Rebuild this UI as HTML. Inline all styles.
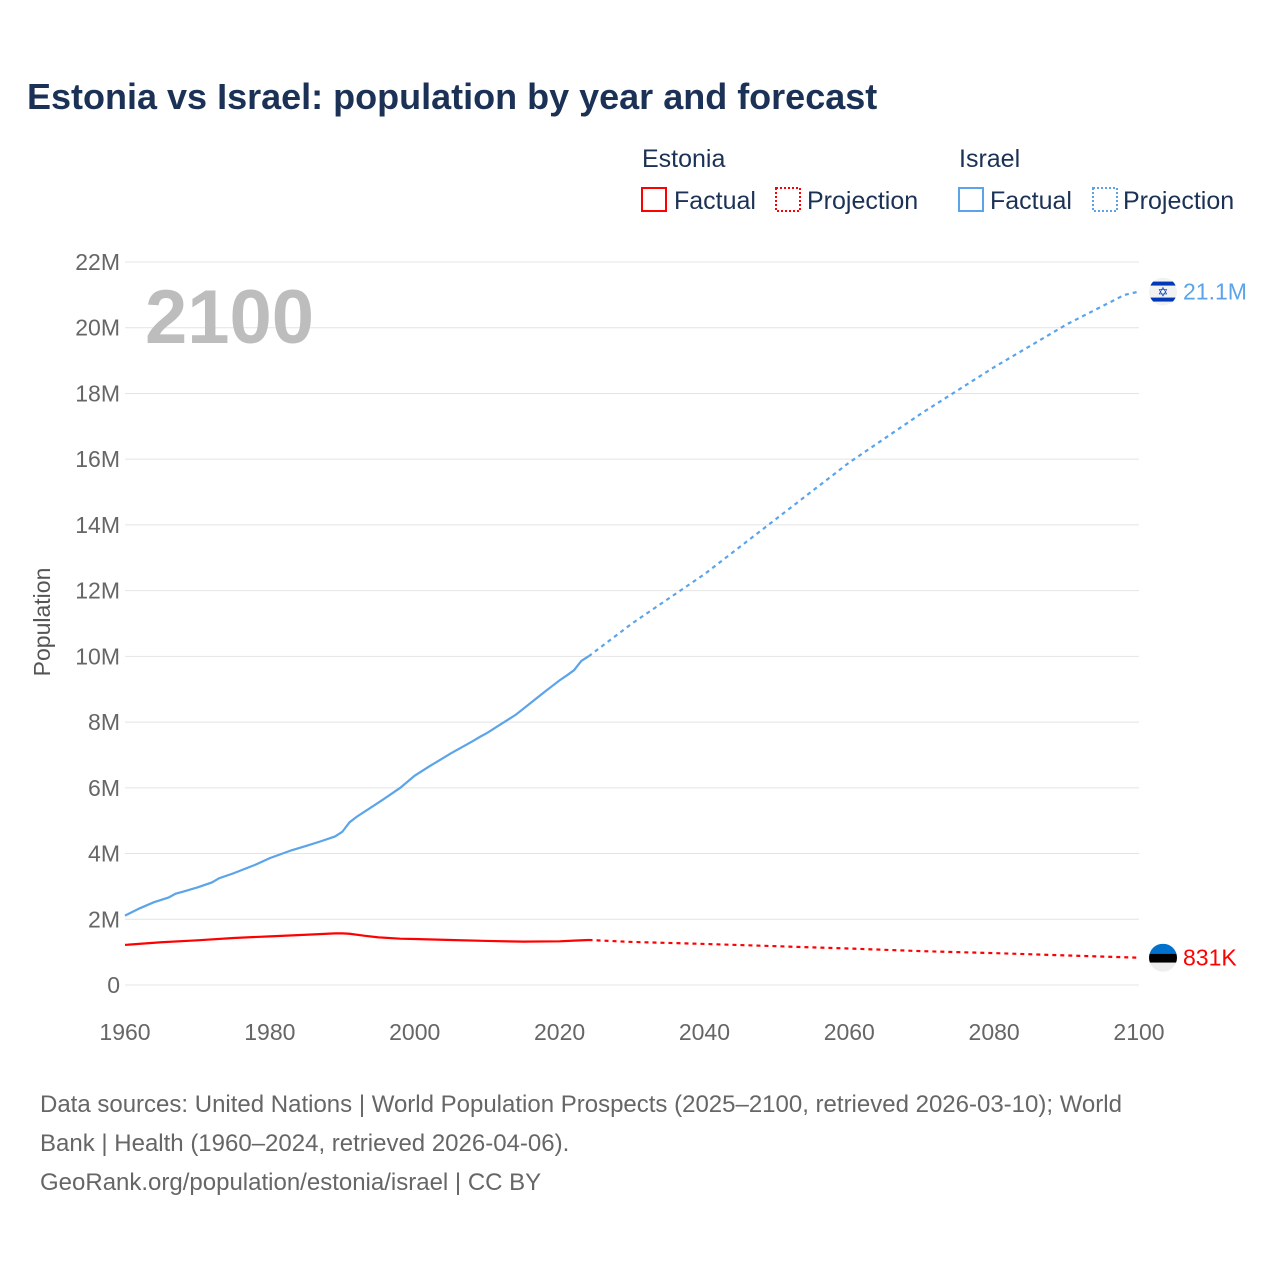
<!DOCTYPE html>
<html><head><meta charset="utf-8"><style>
body{margin:0;background:#fff;font-family:"Liberation Sans",sans-serif;}
svg text{font-family:"Liberation Sans",sans-serif;}
</style></head><body>
<svg id="chart" width="1280" height="1280" xmlns="http://www.w3.org/2000/svg">
<text x="27" y="109" font-size="36" font-weight="bold" fill="#1b3155">Estonia vs Israel: population by year and forecast</text>
<g font-size="25" fill="#1b3155">
<text x="642" y="167">Estonia</text>
<text x="959" y="167">Israel</text>
<rect x="642" y="188" width="24" height="23" fill="none" stroke="#ff0000" stroke-width="2"/>
<text x="674" y="209">Factual</text>
<rect x="776" y="188" width="24" height="23" fill="none" stroke="#ff0000" stroke-width="2" stroke-dasharray="2,2"/>
<text x="807" y="209">Projection</text>
<rect x="959" y="188" width="24" height="23" fill="none" stroke="#5ba4ea" stroke-width="2"/>
<text x="990" y="209">Factual</text>
<rect x="1093" y="188" width="24" height="23" fill="none" stroke="#5ba4ea" stroke-width="2" stroke-dasharray="2,2"/>
<text x="1123" y="209">Projection</text>
</g>
<g id="grid"></g>
<text x="145" y="343" font-size="76" font-weight="bold" fill="#bdbdbd">2100</text>
<text transform="translate(50,622) rotate(-90)" text-anchor="middle" font-size="23" fill="#555">Population</text>
<g id="series"></g>
<g font-size="24" fill="#666">
<text x="40" y="1112">Data sources: United Nations | World Population Prospects (2025–2100, retrieved 2026-03-10); World</text>
<text x="40" y="1151">Bank | Health (1960–2024, retrieved 2026-04-06).</text>
<text x="40" y="1190">GeoRank.org/population/estonia/israel | CC BY</text>
</g>
</svg>
<script>
const yTicks=[0,2,4,6,8,10,12,14,16,18,20,22];
const xTicks=[1960,1980,2000,2020,2040,2060,2080,2100];
const israelYears=[1960,1962,1964,1966,1967,1968,1970,1972,1973,1975,1978,1980,1983,1985,1987,1989,1990,1991,1992,1995,1998,2000,2002,2005,2008,2009,2010,2012,2014,2016,2018,2019,2020,2021,2022,2023,2024];
const israelFactual=[2.11,2.33,2.52,2.66,2.78,2.84,2.97,3.12,3.25,3.40,3.66,3.86,4.10,4.23,4.37,4.52,4.66,4.95,5.12,5.55,6.00,6.37,6.65,7.05,7.42,7.55,7.67,7.95,8.23,8.58,8.93,9.10,9.27,9.42,9.58,9.86,10.0];
const israelProjYears=[2024,2030,2040,2050,2060,2070,2080,2090,2098,2100];
const israelProj=[10.0,11.0,12.5,14.2,15.9,17.4,18.8,20.1,21.0,21.1];
const estoniaYears=[1960,1965,1970,1975,1980,1985,1989,1990,1991,1993,1995,1998,2000,2005,2010,2015,2020,2022,2024];
const estoniaFactual=[1.22,1.30,1.36,1.43,1.48,1.53,1.57,1.57,1.56,1.50,1.45,1.41,1.40,1.37,1.34,1.32,1.33,1.35,1.37];
const estoniaProjYears=[2024,2030,2040,2050,2060,2070,2080,2090,2100];
const estoniaProj=[1.37,1.31,1.25,1.18,1.11,1.03,0.97,0.90,0.831];
const X=y=>125+(y-1960)*(1014/140);
const Y=v=>985-v*(723/22);
const NS="http://www.w3.org/2000/svg";
const grid=document.getElementById('grid'),ser=document.getElementById('series');
function mk(t,a,p){const e=document.createElementNS(NS,t);for(const k in a)e.setAttribute(k,a[k]);p.appendChild(e);return e;}
yTicks.forEach(v=>{
 const l=mk('line',{x1:125,x2:1139,y1:Y(v),y2:Y(v),stroke:'#e4e4e4','stroke-width':1},grid);
 
 
 const t=mk('text',{x:120,y:Y(v)+8,'text-anchor':'end','font-size':23,fill:'#666'},grid);
 t.textContent=v===0?'0':v+'M';
 
 
});
xTicks.forEach(y=>{
 const t=mk('text',{x:X(y),y:1040,'text-anchor':'middle','font-size':23,fill:'#666'},grid);
 t.textContent=y;
 
 
});
function line(ys,vs,col,dash,name){
 const p=mk('polyline',{points:ys.map((y,i)=>X(y)+','+Y(vs[i])).join(' '),fill:'none',stroke:col,'stroke-width':2.2,'stroke-dasharray':dash||'none'},ser);
 
 
}
line(israelYears,israelFactual,'#5ba4ea',null,'israel-factual-line');
line(israelProjYears,israelProj,'#5ba4ea','4,4','israel-projection-line');
line(estoniaYears,estoniaFactual,'#ff0000',null,'estonia-factual-line');
line(estoniaProjYears,estoniaProj,'#ff0000','4,4','estonia-projection-line');
const iy=Y(israelProj[israelProj.length-1]), ey=Y(estoniaProj[estoniaProj.length-1]);
const fi=mk('g',{},ser);


mk('defs',{},fi).innerHTML='<clipPath id="ic"><circle cx="1163" cy="'+iy+'" r="14"/></clipPath>';
const g1=mk('g',{'clip-path':'url(#ic)'},fi);
mk('rect',{x:1149,y:iy-14,width:28,height:28,fill:'#f2f2f2'},g1);
mk('rect',{x:1149,y:iy-10,width:28,height:4,fill:'#0038b8'},g1);
mk('rect',{x:1149,y:iy+6,width:28,height:4,fill:'#0038b8'},g1);
const st=mk('text',{x:1163,y:iy+5,'text-anchor':'middle','font-size':13,fill:'#0038b8'},fi);st.textContent='✡';
const it=mk('text',{x:1183,y:iy+8,'font-size':23,fill:'#5ba4ea'},ser);it.textContent='21.1M';


const fe=mk('g',{},ser);


mk('defs',{},fe).innerHTML='<clipPath id="ec"><circle cx="1163" cy="'+ey+'" r="14"/></clipPath>';
const g2=mk('g',{'clip-path':'url(#ec)'},fe);
mk('rect',{x:1149,y:ey-14,width:28,height:10,fill:'#0072ce'},g2);
mk('rect',{x:1149,y:ey-4,width:28,height:9,fill:'#000'},g2);
mk('rect',{x:1149,y:ey+5,width:28,height:10,fill:'#eee'},g2);
const et=mk('text',{x:1183,y:ey+8,'font-size':23,fill:'#ff0000'},ser);et.textContent='831K';


</script>
</body></html>
